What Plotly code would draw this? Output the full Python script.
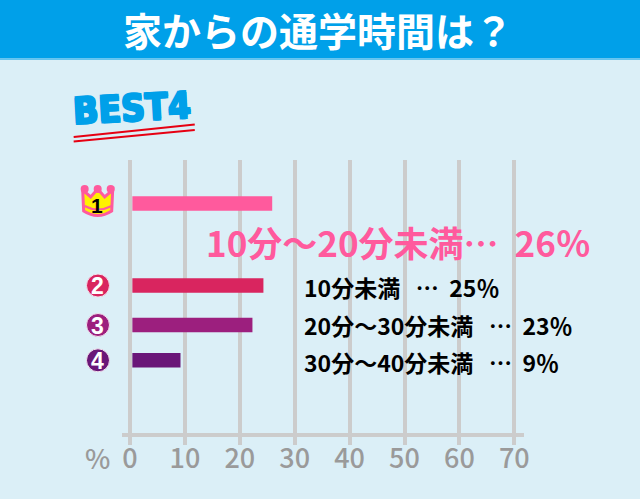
# Commute time to school, best 4
import plotly.graph_objects as go

W, H = 640, 499

categories = ["10分～20分未満", "10分未満", "20分～30分未満", "30分～40分未満"]
labels = ["26％", "25％", "23％", "9％"]
values = [25.9, 24.3, 22.3, 9.2]
ticks = [0, 10, 20, 30, 40, 50, 60, 70]
ranks = ["2", "3", "4"]

bar_colors = ["#ff5a9d", "#d9255f", "#9c1f7e", "#6a1678"]
GRID = "#cccccc"
BLUE = "#00a0e9"
BG = "#dbeff7"
JP = "Noto Sans CJK JP"
COND = "DejaVu Sans Condensed"

# plot area in page pixels, y axis runs in pixels too
L, R, T, B = 122.3, 524, 160, 433
row_y = [203.5, 285.5, 325, 360.3]
text_y = [241, 287, 325, 362]
base = 0.43


def px(x):
    return (x - L) / (R - L)


def py(y):
    return (B - y) / (B - T)


fig = go.Figure()
fig.add_bar(
    y=row_y, x=[v - base for v in values], base=base, orientation="h", width=14.5,
    marker=dict(color=bar_colors, line=dict(width=0)), hoverinfo="skip",
)


def page_shape(**kw):
    fig.add_shape(xref="paper", yref="paper", **kw)


def page_text(x, y, text, size, color, font=JP, weight="bold", xanchor="center", **kw):
    fig.add_annotation(
        xref="paper", yref="paper", x=px(x), y=py(y), text=text, showarrow=False,
        xanchor=xanchor, yanchor="middle", borderpad=0,
        font=dict(family=font, size=size, color=color, weight=weight), **kw,
    )


# header band
page_shape(type="rect", x0=px(0), x1=px(W), y0=py(0), y1=py(58.5), fillcolor=BLUE, line_width=0, layer="below")
page_shape(type="rect", x0=px(0), x1=px(W), y0=py(58.5), y1=py(60), fillcolor="#62c4ef", line_width=0, layer="below")
page_text(318, 29, "家からの通学時間は？", 39, "white")

# BEST4 stamp
page_text(132.5, 108, "BEST4", 37, BLUE, font=COND, textangle=-3)
fig.layout.annotations[-1].font.shadow = f"1px 1px 0 {BLUE}, -1px -1px 0 {BLUE}, 1px -1px 0 {BLUE}, -1px 1px 0 {BLUE}"
page_shape(type="line", x0=px(74), x1=px(195), y0=py(137), y1=py(124.5), line=dict(color="#e60012", width=2))
page_shape(type="line", x0=px(74), x1=px(195), y0=py(141.5), y1=py(130), line=dict(color="#e60012", width=2))

# crown for first place
crown = "M {} {} L {} {} L {} {} L {} {} L {} {} L {} {} L {} {} Q {} {} {} {} Z".format(
    px(84), py(211), px(83), py(190), px(91), py(197), px(98), py(189), px(105), py(197),
    px(113), py(190), px(112), py(211), px(98), py(220), px(84), py(211),
)
page_shape(type="path", path=crown, fillcolor="#fff100", line=dict(color=bar_colors[0], width=3))
for cx in [85, 98, 111]:
    page_shape(type="circle", x0=px(cx - 4), x1=px(cx + 4), y0=py(193), y1=py(185),
               fillcolor=bar_colors[0], line_width=0)
band = "M {} {} Q {} {} {} {}".format(px(85), py(206), px(98), py(213), px(112), py(206))
page_shape(type="path", path=band, line=dict(color=bar_colors[0], width=2))
page_text(97.7, 205.5, "1", 21, "black", font="Liberation Sans")

# round badges
for rank, y, color in zip(ranks, row_y[1:], bar_colors[1:]):
    page_shape(type="circle", x0=px(86.8), x1=px(109.8), y0=py(y - 11.5), y1=py(y + 11.5),
               fillcolor=color, line=dict(color="#f3e3ee", width=1))
    page_text(98.3, y + 0.5, rank, 23, "white", font="Liberation Sans")

# value labels
page_text(205, text_y[0], f"{categories[0]}…\u00a0\u00a0{labels[0]}", 35, bar_colors[0], xanchor="left")
for cat, lab, y in zip(categories[1:], labels[1:], text_y[1:]):
    page_text(303, y, f"{cat}\u00a0\u00a0\u00a0…\u00a0\u00a0{lab}", 23, "black", xanchor="left")

page_text(98, 457, "%", 27, "#9a9a9a", font=JP, weight=500)

fig.update_layout(
    width=W, height=H, autosize=False, showlegend=False,
    margin=dict(l=L, r=W - R, t=T, b=H - B, pad=0),
    paper_bgcolor=BG, plot_bgcolor=BG,
    xaxis=dict(
        range=[(L - 130.3) / 5.486, (R - 130.3) / 5.486], tickvals=ticks, showgrid=True,
        gridcolor=GRID, gridwidth=4, zeroline=False, showline=True, linecolor=GRID, linewidth=4,
        ticks="outside", ticklen=8, tickwidth=4, tickcolor=GRID, ticklabelstandoff=-9,
        tickfont=dict(family=JP, size=27, color="#9a9a9a", weight=500),
    ),
    yaxis=dict(range=[B, T], visible=False, showgrid=False, zeroline=False),
)

fig.write_html("out.html", config=dict(displayModeBar=False),
               post_script="document.body.style.margin = '0';")
